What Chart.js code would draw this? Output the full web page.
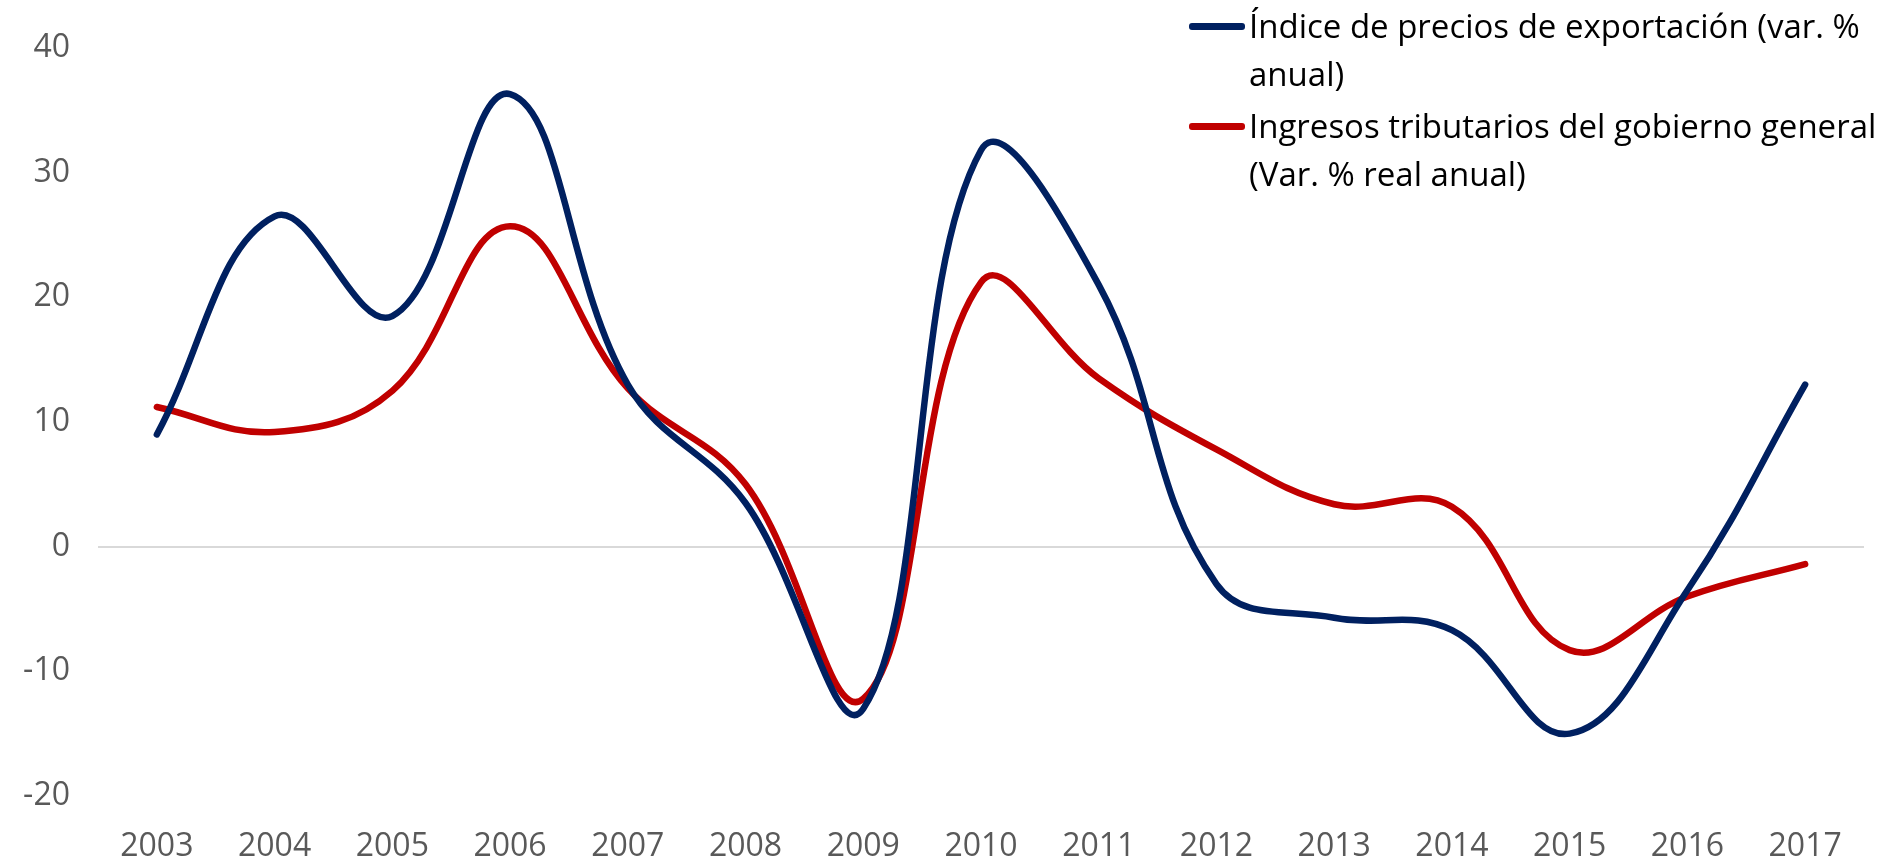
<!DOCTYPE html>
<html>
<head>
<meta charset="utf-8">
<script src="https://cdn.jsdelivr.net/npm/chart.js"></script>
<style>
  html, body { margin: 0; padding: 0; background: #fff; }
  #wrap { position: relative; width: 1878px; height: 864px; }
  #legend { position: absolute; left: 1189px; top: 2px; font-family: "Open Sans", sans-serif; font-size: 33px; line-height: 48px; color: #000; }
  .item { position: relative; padding-left: 60px; }
  .item + .item { margin-top: 4px; }
  .swatch { position: absolute; left: 0; top: 21px; width: 56px; height: 7px; border-radius: 3px; }
</style>
</head>
<body>
<div id="wrap">
  <canvas id="grafico" width="1878" height="864"></canvas>
  <div id="legend"></div>
</div>
<script>
const years = ["2003", "2004", "2005", "2006", "2007", "2008", "2009", "2010", "2011", "2012", "2013", "2014", "2015", "2016", "2017"];
const exportPrices = [9, 26.5, 18.5, 36.3, 13, 3.5, -13, 31.8, 21, -3, -5.7, -6.7, -15, -3.5, 13];
const taxRevenue = [11.2, 9.2, 12.5, 25.7, 12.7, 5, -12.2, 21.2, 13.5, 7.8, 3.4, 3.2, -8.3, -4, -1.4];
const seriesNames = [
  ["Índice de precios de exportación (var. %", "anual)"],
  ["Ingresos tributarios del gobierno general", "(Var. % real anual)"]
];
const seriesColors = ["#002060", "#C00000"];

const ctx = document.getElementById("grafico");
new Chart(ctx, {
  type: "line",
  data: {
    labels: years,
    datasets: [
      { label: seriesNames[0].join(" "), data: exportPrices, borderColor: seriesColors[0], backgroundColor: seriesColors[0] },
      { label: seriesNames[1].join(" "), data: taxRevenue, borderColor: seriesColors[1], backgroundColor: seriesColors[1] }
    ]
  },
  options: {
    responsive: false,
    animation: false,
    layout: { padding: { top: 48, right: 14, left: 0, bottom: 0 } },
    elements: {
      line: { borderWidth: 6.5, tension: 0.4, borderCapStyle: "round", borderJoinStyle: "round" },
      point: { radius: 0 }
    },
    plugins: { legend: { display: false }, tooltip: { enabled: false } },
    scales: {
      x: {
        offset: true,
        grid: { display: false, drawTicks: false },
        border: { display: false },
        ticks: { color: "#595959", font: { family: "Open Sans", size: 32 }, padding: 32, maxRotation: 0 },
        afterFit: (s) => { s.height = 68; }
      },
      y: {
        min: -20, max: 40,
        grid: {
          drawTicks: false,
          color: (c) => (c.tick && c.tick.value === 0 ? "#d9d9d9" : "rgba(0,0,0,0)"),
          lineWidth: 2
        },
        border: { display: false },
        ticks: { stepSize: 10, color: "#595959", font: { family: "Open Sans", size: 32 }, padding: 28 },
        afterFit: (s) => { s.width = 98; }
      }
    }
  }
});

const legend = document.getElementById("legend");
seriesNames.forEach((lines, i) => {
  const item = document.createElement("div");
  item.className = "item";
  const sw = document.createElement("span");
  sw.className = "swatch";
  sw.style.background = seriesColors[i];
  item.appendChild(sw);
  lines.forEach((t, j) => {
    if (j) item.appendChild(document.createElement("br"));
    item.appendChild(document.createTextNode(t));
  });
  legend.appendChild(item);
});
</script>
</body>
</html>
